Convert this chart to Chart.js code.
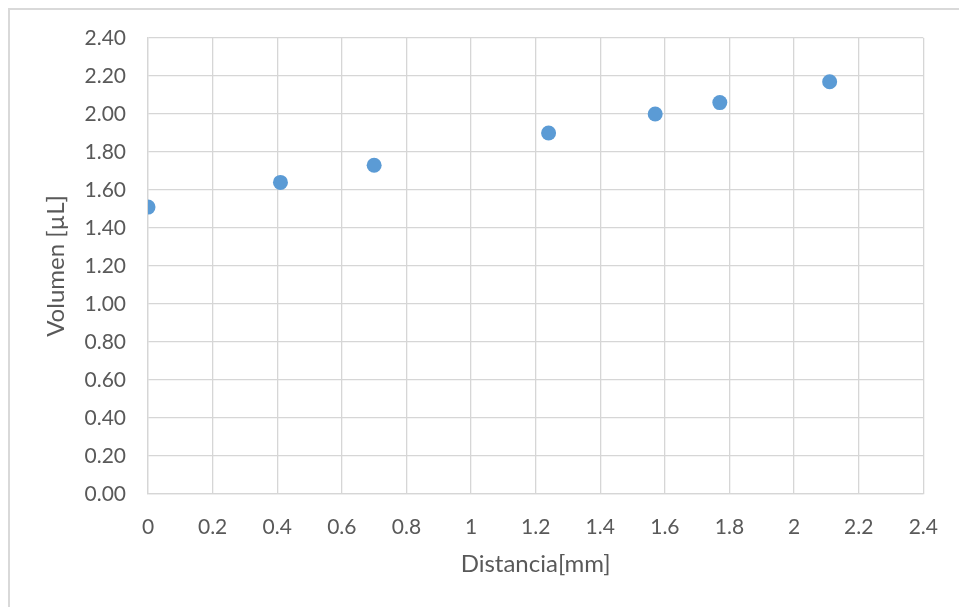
<!DOCTYPE html>
<html>
<head>
<meta charset="utf-8">
<script src="https://cdn.jsdelivr.net/npm/chart.js@4"></script>
<style>
  html, body { margin: 0; padding: 0; background: #fff; overflow: hidden; }
  #frame { position: absolute; left: 8px; top: 8px; width: 1000px; height: 700px;
           border-left: 2px solid #d9d9d9; border-top: 2px solid #d9d9d9; }
  #wrap { position: absolute; left: 0; top: 0; width: 959px; height: 607px; }
</style>
</head>
<body>
<div id="frame"></div>
<div id="wrap"><canvas id="myChart" width="959" height="607"></canvas></div>
<script>
const distancia = [0, 0.41, 0.70, 1.24, 1.57, 1.77, 2.11];
const volumen = [1.51, 1.64, 1.73, 1.90, 2.00, 2.06, 2.17];
const xLabel = "Distancia[mm]";
const yLabel = "Volumen [µL]";

const points = distancia.map((d, i) => ({ x: d, y: volumen[i] }));
const grey = "#d6d6d6";
const textColor = "#595959";
const tickFont = { family: "Lato", size: 21 };
const titleFont = { family: "Lato", size: 24 };

new Chart(document.getElementById("myChart"), {
  type: "scatter",
  data: {
    datasets: [{
      data: points,
      backgroundColor: "#5b9bd5",
      borderColor: "#5b9bd5",
      borderWidth: 0,
      pointRadius: 7.5,
      pointHoverRadius: 7.5,
    }],
  },
  options: {
    responsive: false,
    animation: false,
    layout: { padding: { left: 0, right: 35, top: 38, bottom: 0 } },
    plugins: { legend: { display: false }, tooltip: { enabled: false } },
    scales: {
      x: {
        type: "linear",
        min: 0,
        max: 2.4,
        afterFit: (s) => { s.height = 113; },
        grid: { color: grey, lineWidth: 1.3, drawTicks: false },
        border: { color: grey, width: 1.3 },
        ticks: {
          stepSize: 0.2,
          padding: 21,
          color: textColor,
          font: tickFont,
          maxRotation: 0,
          callback: (v) => String(Number(v.toFixed(1))),
        },
        title: { display: true, text: xLabel, color: textColor, font: titleFont, padding: { top: 0, bottom: 28 } },
      },
      y: {
        min: 0,
        max: 2.4,
        afterFit: (s) => { s.width = 148; },
        grid: { color: grey, lineWidth: 1.3, drawTicks: false },
        border: { color: grey, width: 1.3 },
        ticks: {
          stepSize: 0.2,
          padding: 22,
          color: textColor,
          font: tickFont,
          callback: (v) => v.toFixed(2),
        },
        title: { display: true, text: yLabel, color: textColor, font: titleFont, padding: { top: 42, bottom: 0 } },
      },
    },
  },
});
</script>
</body>
</html>
